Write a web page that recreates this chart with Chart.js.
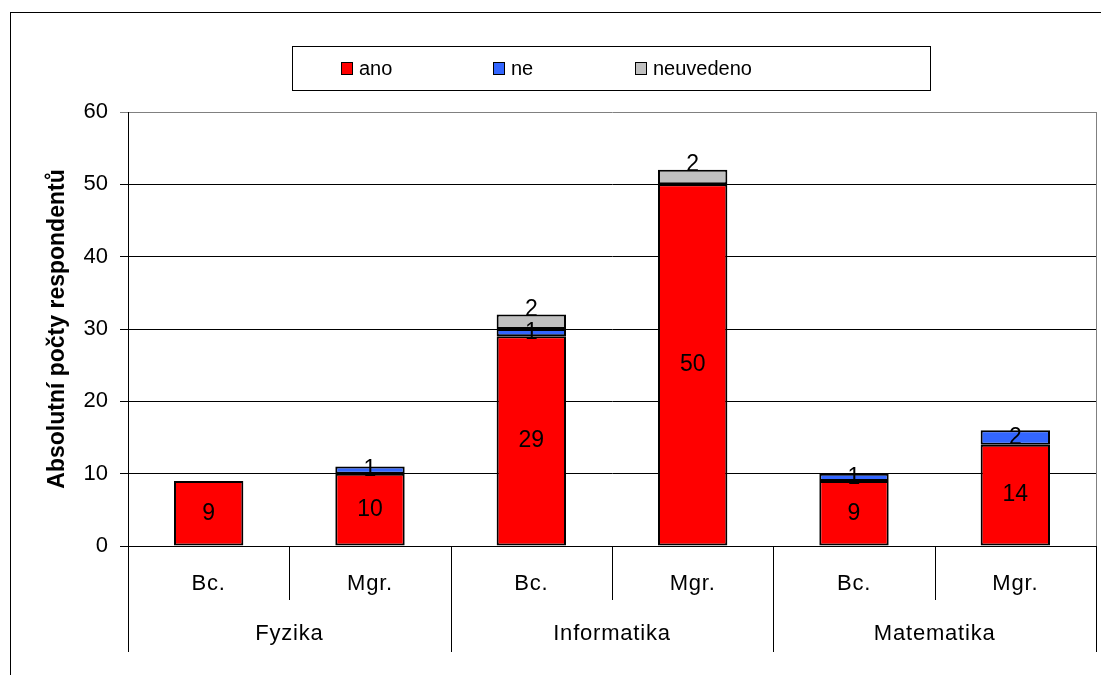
<!DOCTYPE html>
<html>
<head>
<meta charset="utf-8">
<script src="https://cdn.jsdelivr.net/npm/chart.js@4/dist/chart.umd.min.js"></script>
<style>
  html, body { margin: 0; padding: 0; background: #fff; }
  #wrap { width: 1101px; height: 675px; position: relative; }
</style>
</head>
<body>
<div id="wrap"><canvas id="c" width="1101" height="675"></canvas></div>
<script>
// Study programmes and degree levels (two-level category axis)
const groups = ['Fyzika', 'Informatika', 'Matematika'];
const levels = ['Bc.', 'Mgr.'];

// Answer counts per programme/level
const ano       = [9, 10, 29, 50, 9, 14];
const ne        = [null, 1, 1, null, 1, 2];
const neuvedeno = [null, null, 2, 2, null, null];

const seriesNames = ['ano', 'ne', 'neuvedeno'];
const seriesColors = ['#FF0000', '#3366FF', '#C0C0C0'];

const yMin = 0, yMax = 60, yStep = 10;
const yTitle = 'Absolutní počty respondentů';

const categories = groups.flatMap(g => levels.map(l => g + ' ' + l));

const FONT = '"Liberation Sans", Arial, sans-serif';

// Outer frame of the figure
const framePlugin = {
  id: 'frame',
  beforeDraw(chart) {
    const ctx = chart.ctx;
    ctx.save();
    ctx.strokeStyle = '#000';
    ctx.lineWidth = 1;
    ctx.strokeRect(10.5, 12.5, 1200, 1000);
    ctx.restore();
  }
};

// Boxed legend above the plot
const legendBoxPlugin = {
  id: 'legendBox',
  afterDraw(chart) {
    const ctx = chart.ctx;
    ctx.save();
    ctx.strokeStyle = '#000';
    ctx.lineWidth = 1;
    ctx.strokeRect(292.5, 46.5, 638, 44);
    const itemX = [341, 493, 635];
    ctx.font = '20px ' + FONT;
    ctx.textBaseline = 'middle';
    ctx.textAlign = 'left';
    chart.data.datasets.forEach((ds, i) => {
      const x = itemX[i];
      ctx.fillStyle = ds.backgroundColor;
      ctx.fillRect(x, 62, 12, 13);
      ctx.strokeStyle = '#000';
      ctx.strokeRect(x + 0.5, 62.5, 11, 12);
      ctx.fillStyle = '#000';
      ctx.fillText(ds.label, x + 18, 69);
    });
    ctx.restore();
  }
};

// Value labels inside the stacked segments
const valueLabelPlugin = {
  id: 'valueLabels',
  afterDatasetsDraw(chart) {
    const ctx = chart.ctx;
    ctx.save();
    ctx.font = '23px ' + FONT;
    ctx.fillStyle = '#000';
    ctx.textAlign = 'center';
    ctx.textBaseline = 'middle';
    chart.data.datasets.forEach((ds, di) => {
      const meta = chart.getDatasetMeta(di);
      meta.data.forEach((el, i) => {
        const v = ds.data[i];
        if (v === null || v === undefined) return;
        const y = (el.y + el.base) / 2 + (ds.labelShift || 0);
        ctx.fillText(String(v), el.x, y);
      });
    });
    ctx.restore();
  }
};

// Two-level category axis: degree level row and programme row
const multiAxisPlugin = {
  id: 'multiAxis',
  afterDraw(chart) {
    const ctx = chart.ctx;
    const xs = chart.scales.x;
    const area = chart.chartArea;
    const top = area.bottom;
    const centers = categories.map((_, i) => xs.getPixelForValue(i));
    ctx.save();
    ctx.lineWidth = 1;
    // right edge of plot area
    ctx.strokeStyle = '#808080';
    ctx.beginPath();
    ctx.moveTo(Math.round(area.right) + 0.5, area.top);
    ctx.lineTo(Math.round(area.right) + 0.5, top);
    ctx.stroke();
    ctx.strokeStyle = '#000';
    const n = levels.length;
    for (let b = 0; b <= categories.length; b++) {
      let x;
      if (b === 0) x = area.left;
      else if (b === categories.length) x = area.right;
      else x = (centers[b - 1] + centers[b]) / 2;
      const isGroup = b % n === 0;
      const len = isGroup ? 106 : 54;
      ctx.beginPath();
      ctx.moveTo(Math.round(x) + 0.5, top);
      ctx.lineTo(Math.round(x) + 0.5, top + len);
      ctx.stroke();
    }
    ctx.fillStyle = '#000';
    ctx.textAlign = 'center';
    ctx.textBaseline = 'middle';
    ctx.font = '22px ' + FONT;
    ctx.letterSpacing = '0.8px';
    categories.forEach((_, i) => {
      ctx.fillText(levels[i % n], centers[i], top + 38);
    });
    groups.forEach((g, gi) => {
      const c = (centers[gi * n] + centers[gi * n + n - 1]) / 2;
      ctx.fillText(g, c, top + 88);
    });
    ctx.restore();
  }
};

const seriesData = [ano, ne, neuvedeno];
const labelShifts = [0, 0, -12];

new Chart(document.getElementById('c'), {
  type: 'bar',
  data: {
    labels: categories,
    datasets: seriesNames.map((name, i) => ({
      label: name,
      data: seriesData[i],
      backgroundColor: seriesColors[i],
      borderColor: '#000',
      borderWidth: 2,
      borderSkipped: false,
      barPercentage: 0.43,
      categoryPercentage: 1,
      labelShift: labelShifts[i]
    }))
  },
  options: {
    responsive: false,
    animation: false,
    devicePixelRatio: 1,
    layout: { padding: { top: 112, right: 5, left: 0, bottom: 0 } },
    plugins: {
      legend: { display: false },
      tooltip: { enabled: false }
    },
    scales: {
      x: {
        stacked: true,
        ticks: { display: false },
        grid: { display: false },
        border: { display: false },
        afterFit(s) { s.height = 129; }
      },
      y: {
        stacked: true,
        min: yMin,
        max: yMax,
        ticks: {
          stepSize: yStep,
          color: '#000',
          padding: 12,
          font: { family: FONT, size: 22 }
        },
        grid: {
          color: c => (c.tick && c.tick.value === yMax) ? '#808080' : '#000',
          lineWidth: 1,
          tickLength: 8
        },
        border: { color: '#000', width: 1 },
        title: {
          display: true,
          text: yTitle,
          color: '#000',
          font: { family: FONT, size: 23, weight: 'bold' },
          padding: { top: 44, bottom: 0 }
        },
        afterFit(s) { s.width = 128; }
      }
    }
  },
  plugins: [framePlugin, legendBoxPlugin, valueLabelPlugin, multiAxisPlugin]
});
</script>
</body>
</html>
